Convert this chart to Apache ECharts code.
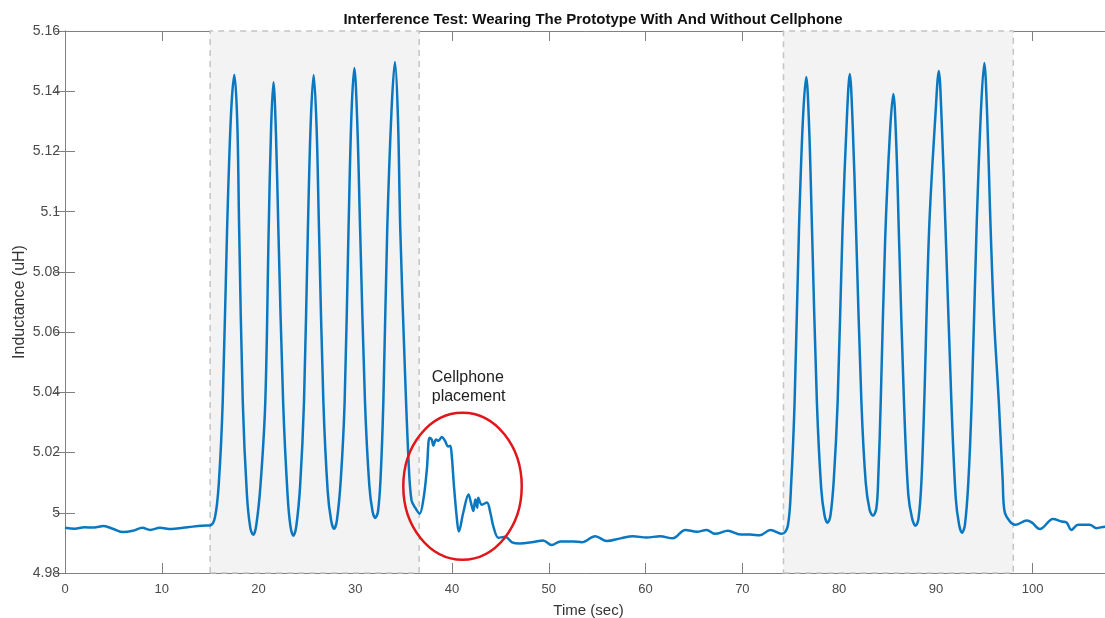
<!DOCTYPE html>
<html>
<head>
<meta charset="utf-8">
<title>Interference Test</title>
<script src="https://cdn.jsdelivr.net/npm/echarts@6/dist/echarts.min.js"></script>
<style>
  html, body { margin: 0; padding: 0; background: #fff; }
  #chart { width: 1105px; height: 618px; }
</style>
</head>
<body>
<div id="chart"></div>
<script>
  // time (s) and inductance (uH)
  const timeSec = [
    0, 1, 2, 3, 4, 5, 6, 7, 8, 8.8, 9.8, 11, 12.2, 13.2, 14.2, 15, 15.5,
    15.9, 16.3, 16.75, 17.15, 17.5, 17.8, 18.0, 18.37, 18.8, 19.15, 19.45,
    19.75, 20.2, 20.7, 21.05, 21.3, 21.54, 21.8, 22.05, 22.54, 23.0, 23.3, 23.6,
    23.9, 24.3, 24.7, 25.1, 25.4, 25.7, 26.0, 26.25, 26.7, 27.15, 27.5, 27.8,
    28.1, 28.5, 28.9, 29.3, 29.6, 29.9, 30.2, 30.5, 31.0, 31.45, 31.78, 32.06,
    32.35, 32.62, 32.9, 33.3, 33.75, 34.1, 34.4, 34.65, 35.1, 35.5, 35.8, 36.2, 36.64,
    37.05, 37.4, 37.67, 37.9, 38.07, 38.35, 38.6, 38.93, 39.27, 39.6, 39.8, 39.96,
    40.2, 40.5, 40.7, 41.16, 41.7, 41.95, 42.2, 42.4, 42.6, 42.7, 43.08, 43.6,
    43.95, 44.3, 44.8, 45.5,
    46.2, 47.0, 48.4, 49.4, 50.3, 51.2, 52.5, 53.4, 54.8, 56.0, 57.4, 58.7,
    60.1, 61.5, 62.8, 64.1, 65.3, 66.3, 67.2, 68.5, 69.8, 70.8, 71.8, 72.9, 74.1, 74.7,
    75.05, 75.4, 75.85, 76.25, 76.6, 76.9, 77.2, 77.7, 78.15, 78.5, 78.8,
    79.1, 79.45, 79.85, 80.35, 80.8, 81.1, 81.4, 81.75, 82.3, 82.75, 83.15, 83.5,
    83.85, 84.05, 84.3, 84.75, 85.25, 85.6, 85.9, 86.2, 86.7, 87.15, 87.55, 87.9,
    88.2, 88.5, 88.8, 89.3, 89.95, 90.3, 90.6, 91.0, 91.6, 92.05, 92.4, 92.7,
    93.0, 93.35, 93.7, 94.2, 94.65, 95.0, 95.3, 95.6, 96.0, 96.5, 96.9, 97.1,
    97.65, 98.2, 99.4, 99.9, 100.75, 102.1, 103.0, 103.5, 104.0, 104.7, 105.9,
    106.6, 107.5, 108.2
  ];
  const inductance = [
    4.9950, 4.9947, 4.9952, 4.9951, 4.9956, 4.9946, 4.9936, 4.9940, 4.9950, 4.9943,
    4.9950, 4.9946, 4.9950, 4.9954, 4.9957, 4.9958, 4.9985,
    5.010, 5.037, 5.094, 5.132, 5.1455, 5.130, 5.094, 5.037, 5.006, 4.9950, 4.9927,
    4.9955, 5.009, 5.037, 5.094, 5.128, 5.1430, 5.126, 5.094, 5.037, 5.006, 4.9955, 4.9924,
    4.9955, 5.009, 5.037, 5.094, 5.130, 5.1454, 5.128, 5.094, 5.037, 5.007, 4.9975, 4.9947,
    4.9975, 5.011, 5.037, 5.094, 5.132, 5.1477, 5.130, 5.094, 5.037, 5.009, 5.0005, 4.9983,
    5.0005, 5.012, 5.037, 5.094, 5.134, 5.1497, 5.132, 5.094, 5.050, 5.0175, 5.0043, 5.0016, 4.9997,
    5.0047, 5.0146, 5.0249, 5.0243, 5.0223, 5.0243, 5.0239, 5.0252, 5.0239, 5.0220, 5.0223, 5.0193,
    5.0087, 4.9980, 4.9938, 5.0001, 5.0061, 5.0034, 5.0006, 5.0044, 5.0017, 5.0050, 5.0027, 5.0034,
    5.0001, 4.9951, 4.9917, 4.9920,
    4.9902, 4.9898, 4.9903, 4.9908, 4.9893, 4.9905, 4.9905, 4.9902, 4.9922, 4.9906, 4.9915, 4.9922,
    4.9918, 4.9922, 4.9915, 4.9943, 4.9937, 4.9943, 4.9930, 4.9940, 4.9928, 4.9928, 4.9925, 4.9943,
    4.9930, 4.9957,
    5.010, 5.037, 5.094, 5.130, 5.1447, 5.128, 5.094, 5.037, 5.008, 4.9990, 4.9967,
    4.9990, 5.011, 5.037, 5.094, 5.131, 5.1457, 5.129, 5.094, 5.037, 5.010, 5.0010, 4.9990,
    5.0015, 5.012, 5.037, 5.090, 5.126, 5.1391, 5.123, 5.090, 5.037, 5.006, 4.9980, 4.9957,
    4.9980, 5.010, 5.037, 5.094, 5.132, 5.1467, 5.130, 5.094, 5.037, 5.005, 4.9960, 4.9934,
    4.9960, 5.010, 5.037, 5.094, 5.133, 5.1494, 5.132, 5.100, 5.065, 5.037, 5.011, 5.0004,
    4.9971, 4.9960, 4.9974, 4.9968, 4.9946, 4.9979, 4.9971, 4.9968, 4.9943, 4.9960, 4.9960,
    4.9949, 4.9954, 4.9952
  ];
  // shaded intervals "wearing the prototype" (s)
  const shadedRanges = [[15, 36.6], [74.25, 98.0]];

  const xMin = 0, xMax = 108.2, xStep = 10;
  const yMin = 4.98, yMax = 5.16, yStep = 0.02;

  const font = 'Liberation Sans, Arial, sans-serif';
  const axisGrey = '#808080';
  const labelGrey = '#4a4a4a';

  const seriesData = timeSec.map((t, i) => [t, inductance[i]]);

  const baseX = {
    type: 'value', min: xMin, max: xMax, interval: xStep,
    axisLine: { show: true, lineStyle: { color: axisGrey, width: 1 } },
    axisTick: { show: true, inside: true, length: 10, lineStyle: { color: axisGrey } },
    splitLine: { show: false }
  };
  const baseY = {
    type: 'value', min: yMin, max: yMax, interval: yStep,
    axisLine: { show: true, lineStyle: { color: axisGrey, width: 1 } },
    axisTick: { show: true, inside: true, length: 10, lineStyle: { color: axisGrey } },
    splitLine: { show: false }
  };

  const option = {
    animation: false,
    backgroundColor: '#fff',
    title: {
      text: 'Interference Test: Wearing The Prototype With And Without Cellphone',
      left: 588, top: 7, textAlign: 'center',
      textStyle: { fontFamily: font, fontSize: 15, fontWeight: 'bold', color: '#111' }
    },
    grid: { left: 65, right: -7, top: 31, bottom: 45, outerBoundsMode: 'none' },
    xAxis: [
      Object.assign({}, baseX, {
        position: 'bottom',
        name: 'Time (sec)', nameLocation: 'middle', nameGap: 30, nameMoveOverlap: false,
        nameTextStyle: { fontFamily: font, fontSize: 15, color: '#333' },
        axisLabel: { show: true, margin: 10, showMaxLabel: false,
          fontFamily: font, fontSize: 13, color: labelGrey }
      }),
      Object.assign({}, baseX, { position: 'top', axisLabel: { show: false } })
    ],
    yAxis: [
      Object.assign({}, baseY, {
        position: 'left',
        name: 'Inductance (uH)', nameLocation: 'middle', nameGap: 37, nameMoveOverlap: false,
        nameTextStyle: { fontFamily: font, fontSize: 16, color: '#333' },
        axisLabel: { show: true, margin: 5, fontFamily: font, fontSize: 14, color: labelGrey,
          formatter: v => String(+v.toFixed(4)) }
      }),
      Object.assign({}, baseY, { position: 'right', axisLabel: { show: false } })
    ],
    series: [{
      type: 'line',
      data: seriesData,
      showSymbol: false,
      smooth: 0.35,
      lineStyle: { color: '#0a78c0', width: 2.5 },
      itemStyle: { color: '#0a78c0' },
      markArea: {
        silent: true,
        itemStyle: { color: '#f3f3f3', borderColor: '#c4c4c4', borderWidth: 1.5, borderType: [6, 5] },
        data: shadedRanges.map(r => [{ xAxis: r[0] }, { xAxis: r[1] }])
      }
    }]
  };

  const chart = echarts.init(document.getElementById('chart'));
  chart.setOption(option);

  // annotation around the cellphone disturbance, anchored in data units
  const ringCenter = [41.08, 5.0088];
  const ringRadius = [6.12, 0.0244];
  const noteAnchor = [37.9, 5.0418];
  const c = chart.convertToPixel({ seriesIndex: 0 }, ringCenter);
  const e = chart.convertToPixel({ seriesIndex: 0 },
    [ringCenter[0] + ringRadius[0], ringCenter[1] - ringRadius[1]]);
  const n = chart.convertToPixel({ seriesIndex: 0 }, noteAnchor);

  chart.setOption({
    graphic: [
      {
        type: 'ellipse',
        shape: { cx: c[0], cy: c[1], rx: e[0] - c[0], ry: e[1] - c[1] },
        style: { fill: 'none', stroke: '#e0161b', lineWidth: 2.5 },
        z: 10
      },
      {
        type: 'text',
        x: n[0], y: n[1],
        style: {
          text: 'Cellphone\nplacement',
          fontFamily: font, fontSize: 16, fill: '#222',
          lineHeight: 19, align: 'left', verticalAlign: 'middle'
        },
        z: 10
      }
    ]
  });
</script>
</body>
</html>
